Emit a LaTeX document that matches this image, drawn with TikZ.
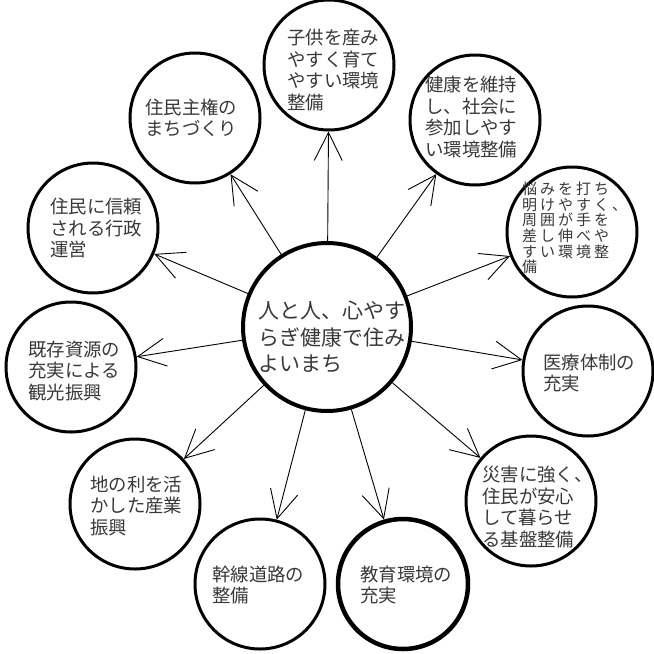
\documentclass[tikz,border=0pt]{standalone}
\usepackage{fontspec}
\newfontfamily\cjk{Noto Sans CJK JP}
\usetikzlibrary{arrows.meta}
\definecolor{txt}{gray}{0.22}
\makeatletter
\newcommand\lsp[1]{\@tfor\lspx:=#1\do{\makebox[18pt][l]{\lspx}}}
\makeatother
\begin{document}
\begin{tikzpicture}[x=1pt,y=-1pt,
  bub/.style={circle,draw=black,line width=3pt,minimum size=130pt,inner sep=0pt},
  hub/.style={circle,draw=black,line width=4pt,minimum size=168pt,inner sep=0pt},
  lbl/.style={anchor=west,align=left,inner sep=0pt,text=txt,font={\cjk\fontsize{18.4}{21.5}\selectfont\lineskiplimit=-50pt}},
  small/.style={font={\cjk\fontsize{15}{15.6}\selectfont\lineskiplimit=-50pt}},
  big/.style={font={\cjk\fontsize{21}{26.7}\selectfont\lineskiplimit=-50pt}},
  con/.style={line width=0.9pt,-{Straight Barb[length=28pt,width=28pt]}}]
\useasboundingbox (0,0) rectangle (654,654);
% circles
\node[hub] (c) at (327,327) {};
\node[bub] (b1) at (329,65) {};
\node[bub] (b2) at (475,120) {};
\node[bub] (b3) at (572,232) {};
\node[bub] (b4) at (588,371) {};
\node[bub] (b5) at (531,501) {};
\node[bub,line width=4.5pt] (b6) at (403,584) {};
\node[bub] (b7) at (260,584) {};
\node[bub] (b8) at (135,504) {};
\node[bub] (b9) at (71,367) {};
\node[bub] (b10) at (93,228) {};
\node[bub] (b11) at (195,118) {};
% texts
\node[lbl,big] (tc) at (258,337) {人と人、心やす\\らぎ健康で住み\\よいまち};
\node[lbl] (t1) at (287,70) {子供を産み\\やすく育て\\やすい環境\\整備};
\node[lbl] (t2) at (425,117) {健康を維持\\し、社会に\\参加しやす\\い環境整備};
\node[lbl,small] (t3) at (522,228) {\lsp{悩みを打ち}\\\lsp{明けやすく、}\\\lsp{周囲が手を}\\\lsp{差し伸べや}\\\lsp{すい環境整}\\\lsp{備}};
\node[lbl] (t4) at (543,373) {医療体制の\\充実};
\node[lbl] (t5) at (482,507) {災害に強く、\\住民が安心\\して暮らせ\\る基盤整備};
\node[lbl] (t6) at (360,585) {教育環境の\\充実};
\node[lbl] (t7) at (212,585) {幹線道路の\\整備};
\node[lbl] (t8) at (90,506) {地の利を活\\かした産業\\振興};
\node[lbl] (t9) at (28,371) {既存資源の\\充実による\\観光振興};
\node[lbl] (t10) at (50,228) {住民に信頼\\される行政\\運営};
\node[lbl] (t11) at (145,118) {住民主権の\\まちづくり};
% connectors
\foreach \i in {1,...,11} \draw[con] (c) -- (b\i);
\end{tikzpicture}
\end{document}
